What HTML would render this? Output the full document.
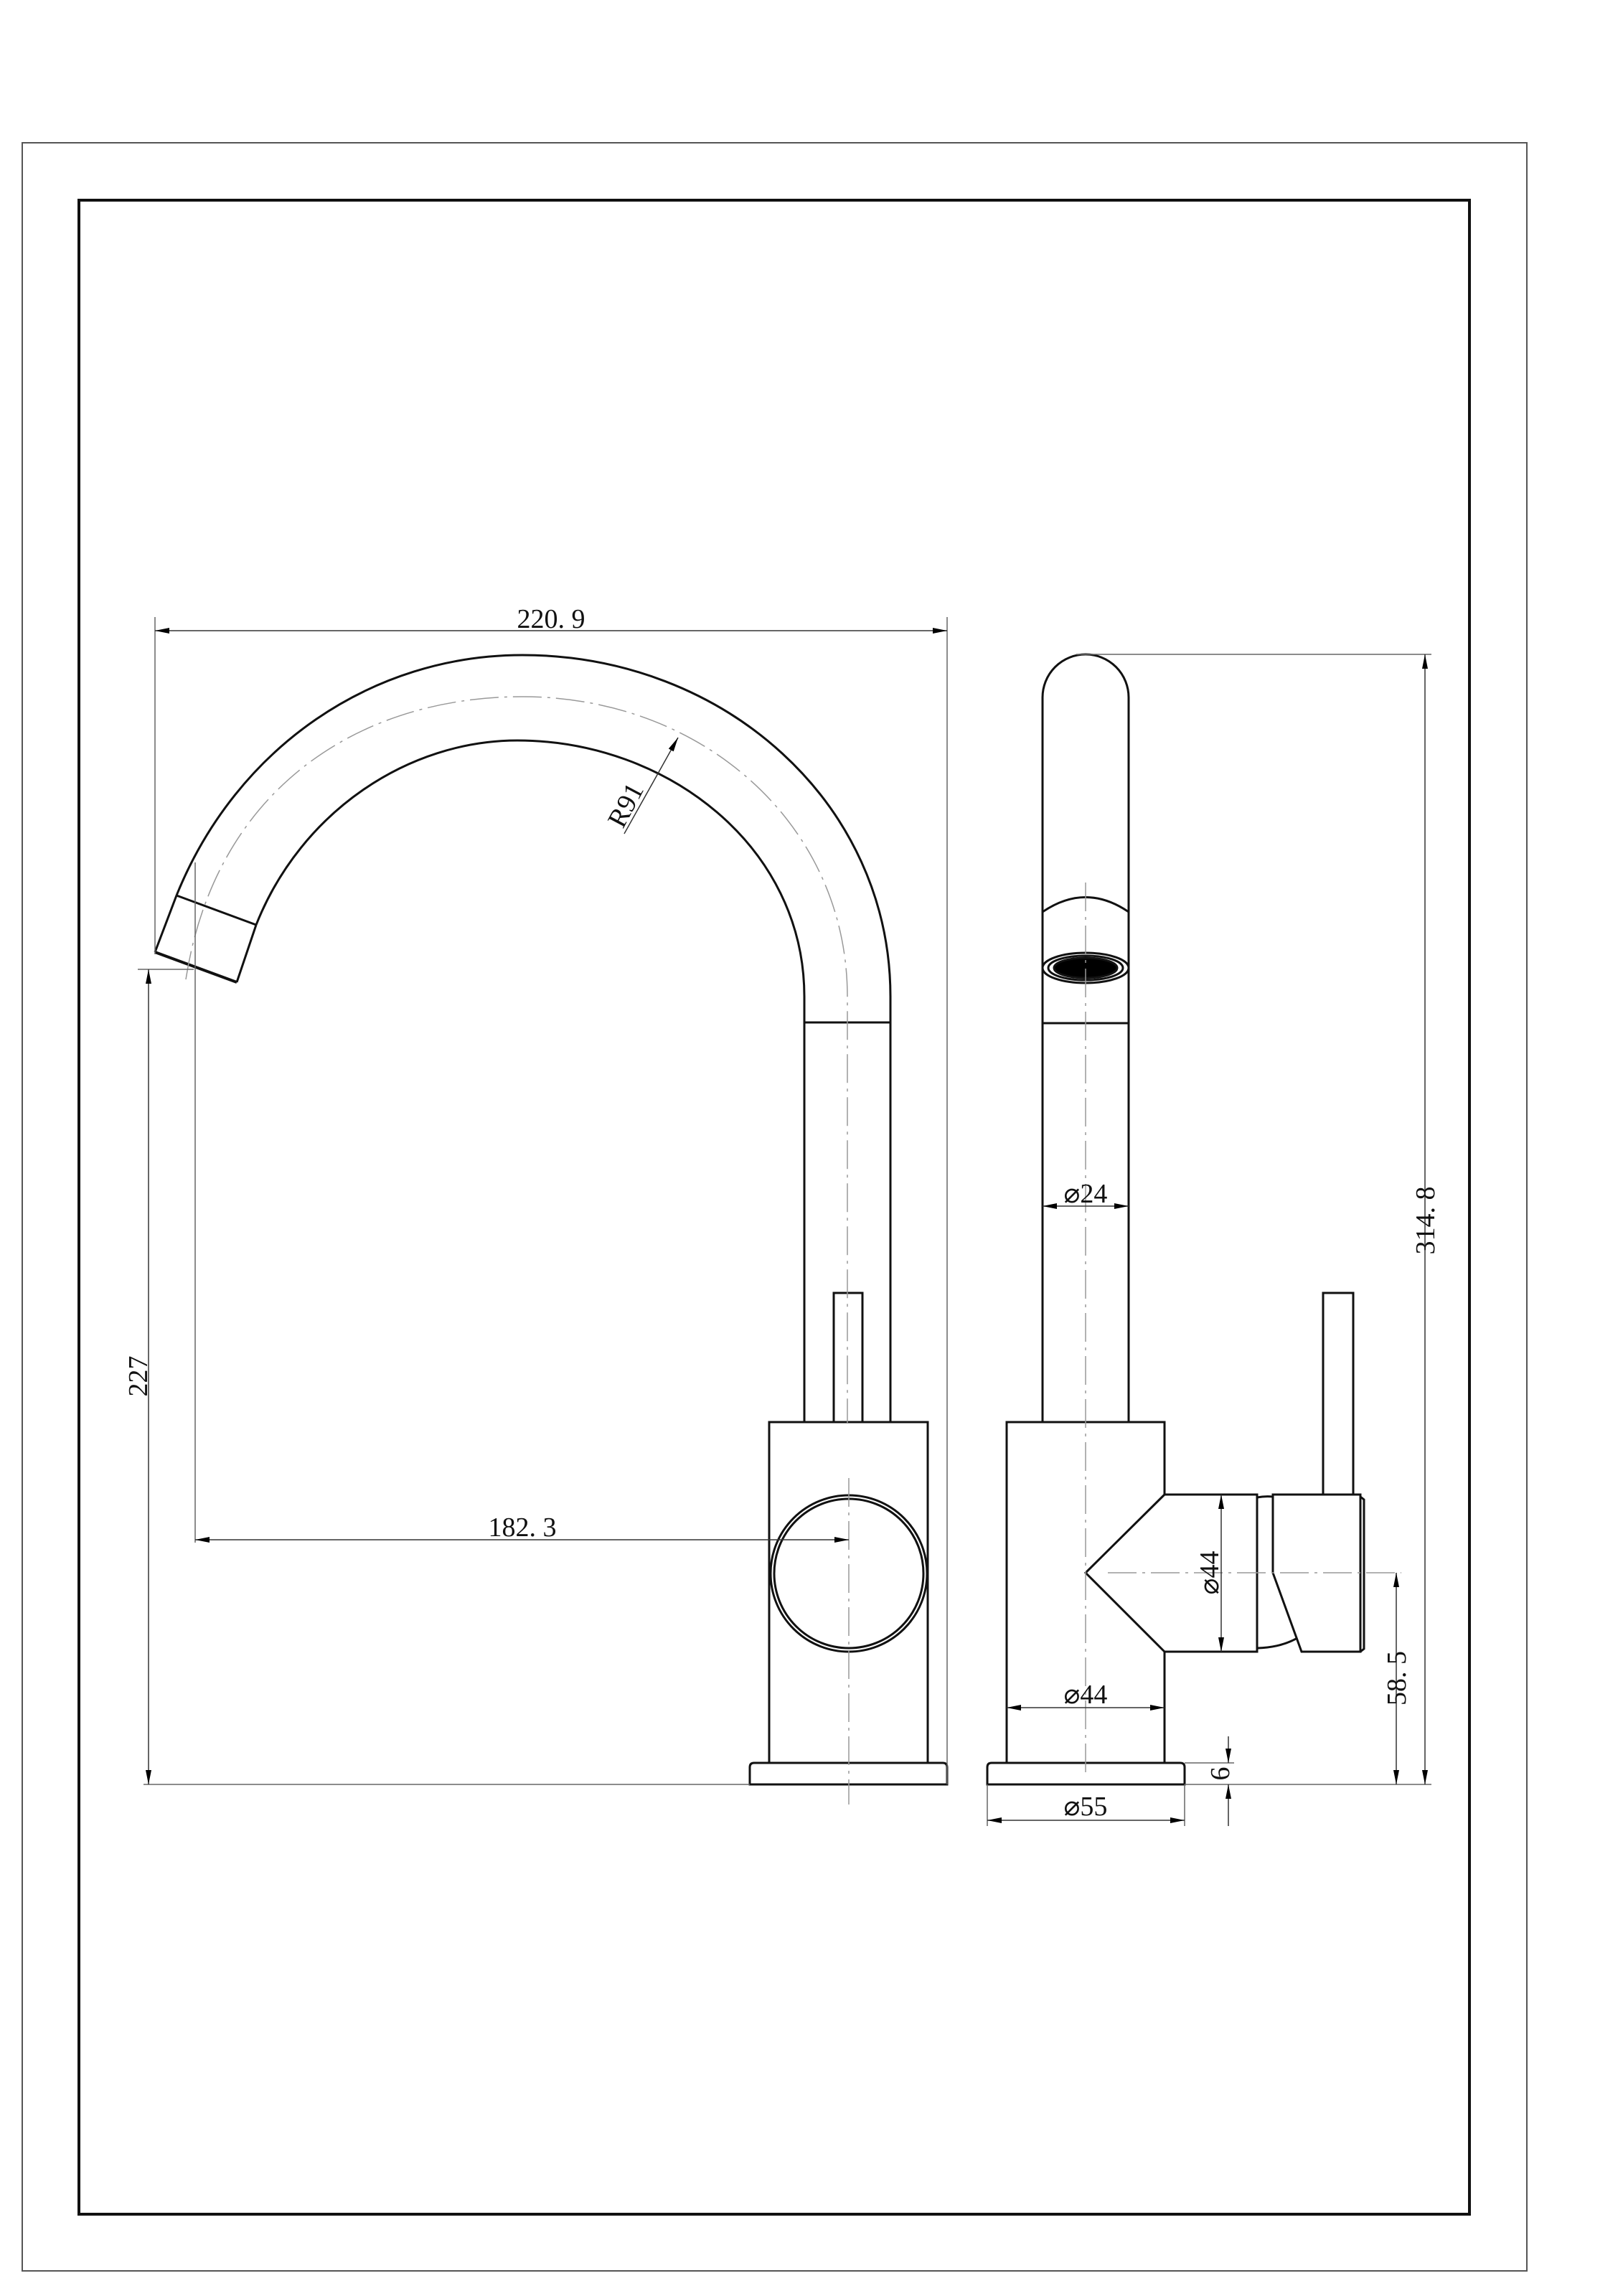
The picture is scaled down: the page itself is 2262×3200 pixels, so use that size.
<!DOCTYPE html>
<html><head><meta charset="utf-8"><style>
html,body{margin:0;padding:0;background:#fff}
svg{display:block}
text{font-family:"Liberation Serif","DejaVu Serif",serif;font-size:38px;fill:#111}
</style></head><body>
<svg width="2262" height="3200" viewBox="0 0 2262 3200" xmlns="http://www.w3.org/2000/svg">
<defs>
<marker id="a" viewBox="0 0 20 8" refX="20" refY="4" markerWidth="20" markerHeight="8" markerUnits="userSpaceOnUse" orient="auto-start-reverse"><path d="M0,0 L20,4 L0,8 Z" fill="#000"/></marker>
</defs>
<rect x="31" y="199" width="2097" height="2966" fill="none" stroke="#555" stroke-width="2"/>
<rect x="110" y="279" width="1938" height="2807" fill="none" stroke="#111" stroke-width="4"/>

<g fill="none" stroke="#111" stroke-width="3">
<!-- left view spout -->
<path d="M246 1248 C330 1040 520 913 728 913 C1010 913 1241 1120 1241 1389 L1241 1983"/>
<path d="M357 1289 C420 1130 570 1032 721 1032 C930 1032 1121 1180 1121 1389 L1121 1983"/>
<line x1="1121" y1="1425" x2="1241" y2="1425"/>
<line x1="246" y1="1248" x2="357" y2="1289"/>
<line x1="246" y1="1248" x2="216" y2="1327"/>
<line x1="357" y1="1289" x2="330" y2="1369"/>
<line x1="216" y1="1327" x2="330" y2="1369" stroke-width="4"/>
<rect x="1072" y="1982" width="221" height="475"/>
<path d="M1045 2487 L1045 2463 Q1045 2457 1051 2457 L1314 2457 Q1320 2457 1320 2463 L1320 2487 Z"/>
<rect x="1162" y="1802" width="40" height="180" fill="#fff"/>
<circle cx="1183" cy="2193" r="109" fill="#fff"/>
<circle cx="1183" cy="2193" r="104"/>
<!-- right view -->
<path d="M1453 1982 L1453 972 A60 60 0 0 1 1573 972 L1573 1982"/>
<path d="M1453 1271 Q1513 1230 1573 1271"/>
<line x1="1453" y1="1426" x2="1573" y2="1426"/>
<ellipse cx="1513" cy="1349" rx="60" ry="21"/>
<ellipse cx="1513" cy="1349" rx="52" ry="17"/>
<ellipse cx="1513" cy="1349" rx="44" ry="14" fill="#000"/>
<path d="M1403 1982 L1623 1982 L1623 2083 L1752 2083 L1752 2302 L1623 2302 L1623 2457 L1403 2457 Z"/>
<path d="M1623 2083 L1513 2192 L1623 2302"/>
<path d="M1752 2087 Q1763 2085 1774 2086"/>
<path d="M1753 2297 Q1785 2296 1808 2283"/>
<path d="M1774 2083 L1896 2083 L1896 2302 L1814 2302 L1774 2192 Z"/>
<path d="M1896 2086 L1901 2090 L1901 2298 L1896 2302"/>
<rect x="1844" y="1802" width="42" height="281"/>
<path d="M1376 2487 L1376 2463 Q1376 2457 1382 2457 L1645 2457 Q1651 2457 1651 2463 L1651 2487 Z"/>
</g>

<!-- center lines -->
<g fill="none" stroke="#999" stroke-width="1.5" stroke-dasharray="40 8 4 8">
<path d="M259 1365 C300 1100 500 971 728 971 C980 971 1181 1150 1181 1389 L1181 1983"/>
<line x1="1183" y1="2060" x2="1183" y2="2515"/>
<line x1="1513" y1="1230" x2="1513" y2="2470"/>
<line x1="1544" y1="2192" x2="1953" y2="2192"/>
</g>

<!-- dimension lines -->
<g fill="none" stroke="#666" stroke-width="1.5">
<line x1="216" y1="860" x2="216" y2="1330"/>
<line x1="1320" y1="860" x2="1320" y2="2487"/>
<line x1="272" y1="1202" x2="272" y2="2150"/>
<line x1="192" y1="1351" x2="270" y2="1351"/>
<line x1="200" y1="2487" x2="1045" y2="2487"/>
<line x1="1500" y1="912" x2="1995" y2="912"/>
<line x1="1651" y1="2487" x2="1995" y2="2487"/>
<line x1="1651" y1="2457" x2="1720" y2="2457"/>
<line x1="1376" y1="2487" x2="1376" y2="2545"/>
<line x1="1651" y1="2487" x2="1651" y2="2545"/>
</g>
<g fill="none" stroke="#333" stroke-width="1.5">
<line x1="216" y1="879" x2="1320" y2="879" marker-start="url(#a)" marker-end="url(#a)"/>
<line x1="207" y1="1351" x2="207" y2="2487" marker-start="url(#a)" marker-end="url(#a)"/>
<line x1="272" y1="2146" x2="1183" y2="2146" marker-start="url(#a)" marker-end="url(#a)"/>
<line x1="870" y1="1162" x2="945" y2="1028" marker-end="url(#a)"/>
<line x1="1453" y1="1681" x2="1573" y2="1681" marker-start="url(#a)" marker-end="url(#a)"/>
<line x1="1986" y1="912" x2="1986" y2="2487" marker-start="url(#a)" marker-end="url(#a)"/>
<line x1="1702" y1="2083" x2="1702" y2="2302" marker-start="url(#a)" marker-end="url(#a)"/>
<line x1="1946" y1="2192" x2="1946" y2="2487" marker-start="url(#a)" marker-end="url(#a)"/>
<line x1="1403" y1="2380" x2="1623" y2="2380" marker-start="url(#a)" marker-end="url(#a)"/>
<line x1="1376" y1="2537" x2="1651" y2="2537" marker-start="url(#a)" marker-end="url(#a)"/>
<line x1="1712" y1="2420" x2="1712" y2="2457" marker-end="url(#a)"/>
<line x1="1712" y1="2545" x2="1712" y2="2487" marker-end="url(#a)"/>
</g>

<text x="768" y="875" text-anchor="middle">220. 9</text>
<text x="728" y="2141" text-anchor="middle">182. 3</text>
<text transform="translate(205,1918) rotate(-90)" text-anchor="middle">227</text>
<text transform="translate(883,1128) rotate(-62)" text-anchor="middle">R91</text>
<text x="1513" y="1676" text-anchor="middle">⌀24</text>
<text transform="translate(1999,1701) rotate(-90)" text-anchor="middle">314. 8</text>
<text transform="translate(1698,2192) rotate(-90)" text-anchor="middle">⌀44</text>
<text x="1513" y="2374" text-anchor="middle">⌀44</text>
<text transform="translate(1959,2339) rotate(-90)" text-anchor="middle">58. 5</text>
<text transform="translate(1713,2472) rotate(-90)" text-anchor="middle">6</text>
<text x="1513" y="2530" text-anchor="middle">⌀55</text>
</svg>
</body></html>
